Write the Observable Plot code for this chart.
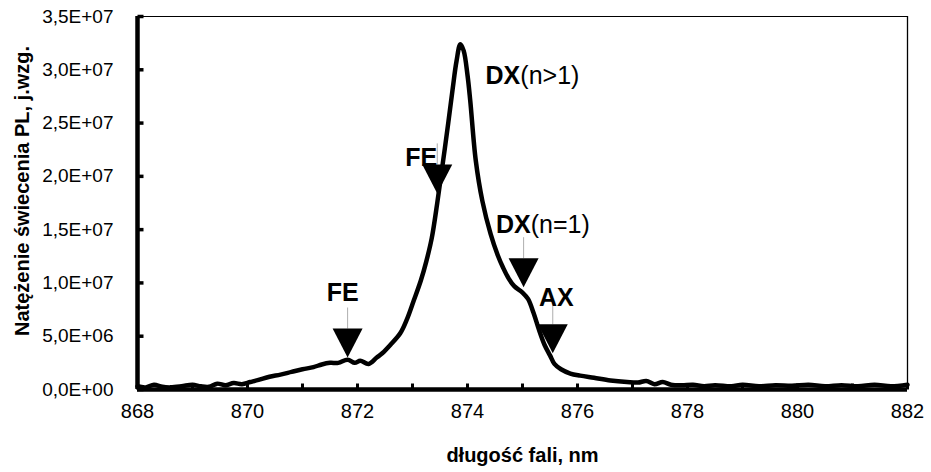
<!DOCTYPE html>
<html>
<head>
<meta charset="utf-8">
<script src="https://cdn.jsdelivr.net/npm/d3@7"></script>
<script src="https://cdn.jsdelivr.net/npm/@observablehq/plot@0.6"></script>
<style>
  html, body { margin: 0; padding: 0; background: #fff; }
  #chart { width: 931px; height: 472px; }
</style>
</head>
<body>
<div id="chart"></div>
<script>
// ---- data ----
const wavelength = [
  868.0, 868.15, 868.3, 868.45, 868.6, 868.8, 869.0, 869.15, 869.3, 869.45,
  869.6, 869.75, 869.9, 870.05, 870.2, 870.4, 870.6, 870.8, 871.0, 871.2,
  871.35, 871.5, 871.65, 871.82, 871.95, 872.05, 872.2, 872.35, 872.45, 872.6,
  872.78, 872.9, 873.02, 873.15, 873.25, 873.35, 873.45, 873.55, 873.65,
  873.73, 873.8, 873.87, 873.93, 874.0, 874.05, 874.15, 874.27, 874.42, 874.55,
  874.65, 874.75, 874.85, 875.0, 875.1, 875.2, 875.3, 875.4, 875.5, 875.58,
  875.7, 875.87, 876.05, 876.3, 876.6, 876.9, 877.1, 877.25, 877.4, 877.55,
  877.7, 877.9, 878.1, 878.3, 878.5, 878.8, 879.0, 879.3, 879.6, 879.9,
  880.2, 880.5, 880.8, 881.1, 881.4, 881.7, 882.0
];
const intensity = [
  3.0e5, 2.0e5, 4.5e5, 2.5e5, 2.0e5, 3.0e5, 4.5e5, 3.0e5, 2.5e5, 5.5e5,
  4.0e5, 6.0e5, 5.0e5, 7.0e5, 9.0e5, 1.2e6, 1.4e6, 1.65e6, 1.9e6, 2.1e6,
  2.35e6, 2.5e6, 2.5e6, 2.8e6, 2.5e6, 2.7e6, 2.4e6, 3.0e6, 3.4e6, 4.2e6,
  5.3e6, 6.6e6, 8.3e6, 1.02e7, 1.2e7, 1.42e7, 1.75e7, 2.12e7, 2.5e7,
  2.82e7, 3.08e7, 3.24e7, 3.18e7, 2.95e7, 2.71e7, 2.15e7, 1.77e7, 1.46e7, 1.26e7,
  1.14e7, 1.04e7, 9.7e6, 9.1e6, 8.5e6, 7.2e6, 5.6e6, 4.2e6, 3.2e6, 2.4e6,
  1.9e6, 1.5e6, 1.3e6, 1.1e6, 8.5e5, 7.0e5, 6.5e5, 8.0e5, 5.0e5, 7.0e5,
  4.5e5, 4.0e5, 4.5e5, 3.0e5, 4.0e5, 3.0e5, 4.5e5, 3.0e5, 4.0e5, 3.5e5,
  4.5e5, 3.0e5, 4.0e5, 3.0e5, 4.5e5, 3.0e5, 4.5e5
];

// arrow markers (tip positions)
const markerX = [871.82, 873.45, 875.02, 875.55];
const markerY = [3.0e6, 1.84e7, 9.6e6, 3.4e6];

// annotation labels: bold part ends at labelX, regular part starts there
const labelBold = ["FE", "FE", "DX", "DX", "AX"];
const labelRegular = ["", "", "(n>1)", "(n=1)", ""];
const labelX = [872.02, 873.45, 874.96, 875.15, 875.93];
const labelY = [8.35e6, 2.10e7, 2.87e7, 1.47e7, 7.8e6];

// axes
const xDomain = [868, 882];
const yDomain = [0, 3.5e7];
const xMinorTicks = [868, 869, 870, 871, 872, 873, 874, 875, 876, 877, 878, 879, 880, 881, 882];
const xLabelTicks = [868, 870, 872, 874, 876, 878, 880, 882];
const yTicks = [0, 5e6, 1e7, 1.5e7, 2e7, 2.5e7, 3e7, 3.5e7];
const xTitle = "długość fali, nm";
const yTitle = "Natężenie świecenia PL, j.wzg.";

// ---- build tables ----
const spectrum = wavelength.map((w, i) => ({w, v: intensity[i]}));
const markers = markerX.map((x, i) => ({x, y: markerY[i]}));
const labels = labelBold.map((b, i) => ({b, r: labelRegular[i], x: labelX[i], y: labelY[i]}));

function sciComma(d) {
  if (d === 0) return "0,0E+00";
  const e = Math.floor(Math.log10(d) + 1e-9);
  const m = d / Math.pow(10, e);
  return m.toFixed(1).replace(".", ",") + "E+" + String(e).padStart(2, "0");
}

// custom symbols
const triDown = {draw(ctx) { ctx.moveTo(0, 0); ctx.lineTo(-15, -29); ctx.lineTo(15, -29); ctx.closePath(); }};
const stem = {draw(ctx) { ctx.moveTo(0, -29); ctx.lineTo(0, -50); }};
const tickRight = {draw(ctx) { ctx.moveTo(0, 0); ctx.lineTo(6, 0); }};
const tickUp = {draw(ctx) { ctx.moveTo(0, 0); ctx.lineTo(0, -6); }};

const chart = Plot.plot({
  width: 931,
  height: 472,
  marginLeft: 137,
  marginRight: 24,
  marginTop: 16,
  marginBottom: 83,
  style: {fontFamily: "'Liberation Sans', Arial, sans-serif", fontSize: "18px", background: "#fff", color: "#000", overflow: "visible"},
  x: {domain: xDomain, label: null},
  y: {domain: yDomain, label: null},
  marks: [
    Plot.axisX(xLabelTicks, {tickSize: 0, tickPadding: 14, tickFormat: d => String(d), fontSize: 20}),
    Plot.axisY(yTicks, {tickSize: 0, tickPadding: 24, tickFormat: sciComma, fontSize: 19}),
    // frame
    Plot.ruleY([yDomain[1]], {stroke: "#000", strokeWidth: 1}),
    Plot.ruleX([xDomain[1]], {stroke: "#000", strokeWidth: 1.3}),
    // inside ticks
    Plot.dot(yTicks, {x: () => xDomain[0], y: d => d, symbol: tickRight, stroke: "#000", strokeWidth: 3.5, fill: "none"}),
    Plot.dot(xMinorTicks, {x: d => d, y: () => yDomain[0], symbol: tickUp, stroke: "#000", strokeWidth: 3, fill: "none"}),
    // curve
    Plot.line(spectrum, {x: "w", y: "v", stroke: "#000", strokeWidth: 4.5, curve: "catmull-rom", strokeLinejoin: "round", strokeLinecap: "round"}),
    // thick axes lines
    Plot.ruleX([xDomain[0]], {stroke: "#000", strokeWidth: 4.5}),
    Plot.ruleY([yDomain[0]], {stroke: "#000", strokeWidth: 4.5, x1: xDomain[0], x2: xDomain[1]}),
    // arrows
    Plot.dot(markers, {x: "x", y: "y", symbol: stem, stroke: "#999", strokeWidth: 0.8, fill: "none"}),
    Plot.dot(markers, {x: "x", y: "y", symbol: triDown, fill: "#000", stroke: "none"}),
    // labels
    Plot.text(labels, {x: "x", y: "y", text: "b", textAnchor: "end", lineAnchor: "bottom", fontWeight: "bold", fontSize: 25, fill: "#000"}),
    Plot.text(labels, {x: "x", y: "y", text: "r", textAnchor: "start", lineAnchor: "bottom", fontWeight: "normal", fontSize: 25, fill: "#000"}),
    // axis titles
    Plot.text([xTitle], {frameAnchor: "bottom", text: d => d, textAnchor: "middle", dy: 72, fontWeight: "bold", fontSize: 20, fill: "#000"}),
    Plot.text([yTitle], {frameAnchor: "left", text: d => d, textAnchor: "middle", rotate: -90, dx: -115, dy: -12, fontWeight: "bold", fontSize: 20, fill: "#000"})
  ]
});
document.getElementById("chart").appendChild(chart);
</script>
</body>
</html>
